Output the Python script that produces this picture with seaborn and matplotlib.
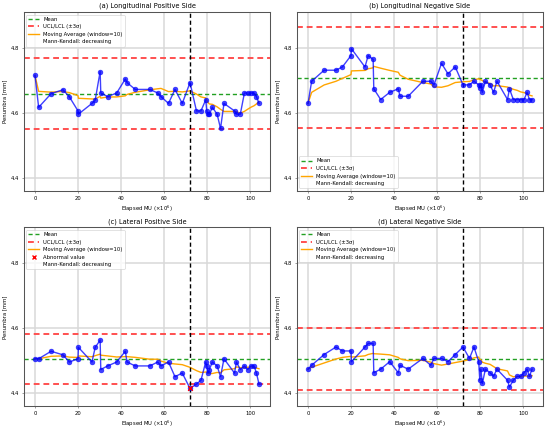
import matplotlib
matplotlib.use("Agg")
from matplotlib import pyplot as plt
from matplotlib.lines import Line2D
import seaborn as sns
import pandas as pd

# elapsed MU (x10^6) shared by all four panels
elapsed_mu = [0, 1.7, 7.5, 13, 16, 20, 20.2, 26.5, 28, 30.3,
              30.6, 33.8, 38, 42, 42.8, 46.6, 53.4, 57.1, 58.6, 62.1,
              65.1, 68.5, 72.1, 75.1, 77.2, 79.4, 79.9, 80.4, 81.1, 82.5,
              84.7, 86.3, 87.9, 92.8, 93.7, 95.5, 97.4, 98.9, 100.5, 101.9,
              103, 104.2]

long_pos = [4.715, 4.617, 4.659, 4.671, 4.649, 4.606, 4.596, 4.629, 4.639, 4.727,
            4.661, 4.650, 4.661, 4.704, 4.693, 4.672, 4.672, 4.661, 4.650, 4.629,
            4.672, 4.629, 4.693, 4.606, 4.606, 4.640, 4.606, 4.596, 4.596, 4.617,
            4.596, 4.552, 4.629, 4.606, 4.596, 4.596, 4.661, 4.661, 4.661, 4.661,
            4.650, 4.629]

long_neg = [4.629, 4.697, 4.731, 4.731, 4.741, 4.776, 4.797, 4.741, 4.776, 4.764,
            4.674, 4.641, 4.663, 4.674, 4.651, 4.651, 4.697, 4.697, 4.686, 4.752,
            4.720, 4.741, 4.686, 4.686, 4.697, 4.686, 4.676, 4.686, 4.663, 4.697,
            4.686, 4.663, 4.697, 4.641, 4.674, 4.641, 4.641, 4.641, 4.641, 4.663,
            4.641, 4.641]

lat_pos = [4.506, 4.506, 4.529, 4.518, 4.496, 4.506, 4.541, 4.496, 4.541, 4.563,
           4.473, 4.484, 4.496, 4.529, 4.496, 4.484, 4.484, 4.496, 4.484, 4.496,
           4.451, 4.462, 4.415, 4.428, 4.440, 4.496, 4.484, 4.462, 4.473, 4.496,
           4.484, 4.451, 4.506, 4.462, 4.496, 4.473, 4.484, 4.473, 4.484, 4.484,
           4.462, 4.428]

lat_neg = [4.474, 4.486, 4.519, 4.542, 4.530, 4.530, 4.497, 4.542, 4.553, 4.553,
           4.463, 4.474, 4.497, 4.463, 4.486, 4.474, 4.507, 4.486, 4.507, 4.507,
           4.497, 4.519, 4.542, 4.507, 4.542, 4.497, 4.440, 4.474, 4.430, 4.474,
           4.463, 4.452, 4.474, 4.440, 4.419, 4.440, 4.452, 4.452, 4.463, 4.474,
           4.452, 4.474]

titles = ["(a) Longitudinal Positive Side", "(b) Longitudinal Negative Side",
          "(c) Lateral Positive Side", "(d) Lateral Negative Side"]
series = [long_pos, long_neg, lat_pos, lat_neg]
means = [4.659, 4.708, 4.505, 4.504]
ucls = [4.769, 4.864, 4.583, 4.599]
lcls = [4.549, 4.553, 4.428, 4.410]
legend_locs = ["upper left", "lower left", "upper left", "upper left"]
change_point = 72

plt.rcParams["font.family"] = ["DejaVu Sans"]
fig, axes = plt.subplots(2, 2, figsize=(10.92, 8.64), dpi=50)

for ax, title, vals, mean, ucl, lcl, loc in zip(axes.flat, titles, series, means, ucls, lcls, legend_locs):
    df = pd.DataFrame({"mu": elapsed_mu, "penumbra": vals})
    df["ma"] = df["penumbra"].rolling(window=10, min_periods=1).mean()

    ax.grid(True, color="#d8d8d8", linewidth=2.2)
    ax.set_axisbelow(True)
    sns.lineplot(data=df, x="mu", y="penumbra", ax=ax, color="blue", marker="o",
                 markersize=7, markeredgecolor="blue", linewidth=2, alpha=0.75, zorder=3)
    ax.axhline(mean, color="#22a022", linestyle="--", linewidth=2, dashes=(3, 2))
    ax.axhline(ucl, color="#ff5050", linestyle="--", linewidth=2.8, dashes=(3, 2))
    ax.axhline(lcl, color="#ff5050", linestyle="--", linewidth=2.8, dashes=(3, 2))
    sns.lineplot(data=df, x="mu", y="ma", ax=ax, color="orange", linewidth=2, zorder=2)

    handles = [Line2D([], [], color="#22a022", linestyle="--", linewidth=2, dashes=(3, 2)),
               Line2D([], [], color="#ff5050", linestyle="--", linewidth=2.8, dashes=(3, 2)),
               Line2D([], [], color="orange", linewidth=2)]
    labels = ["Mean", "UCL/LCL (\u00b13\u03c3)", "Moving Average (window=10)"]

    abnormal = df[(df["penumbra"] > ucl) | (df["penumbra"] < lcl)]
    if len(abnormal):
        sns.scatterplot(data=abnormal, x="mu", y="penumbra", ax=ax, color="red",
                        marker="x", s=45, linewidth=2, zorder=4)
        handles.append(Line2D([], [], color="red", marker="x", linestyle="none",
                              markersize=6, markeredgewidth=2))
        labels.append("Abnormal value")
    handles.append(Line2D([], [], color="none"))
    labels.append("Mann-Kendall: decreasing")

    ax.axvline(change_point, color="black", linestyle="--", linewidth=2, dashes=(3, 2))
    ax.set_ylim(4.36, 4.91)
    ax.set_yticks([4.4, 4.6, 4.8])
    ax.set_xticks([0, 20, 40, 60, 80, 100])
    ax.set_title(title, fontsize=9.5)
    ax.set_xlabel("Elapsed MU (\u00d710$^6$)", fontsize=7.5)
    ax.set_ylabel("Penumbra [mm]", fontsize=7.5)
    ax.tick_params(labelsize=7.5, color="#555555")
    for sp in ax.spines.values():
        sp.set_color("#555555")
        sp.set_linewidth(1.5)
    ax.legend(handles, labels, loc=loc, fontsize=7.5)

plt.tight_layout(pad=0.4, h_pad=0.6, w_pad=0.8)
plt.savefig("out.png", dpi=50)
